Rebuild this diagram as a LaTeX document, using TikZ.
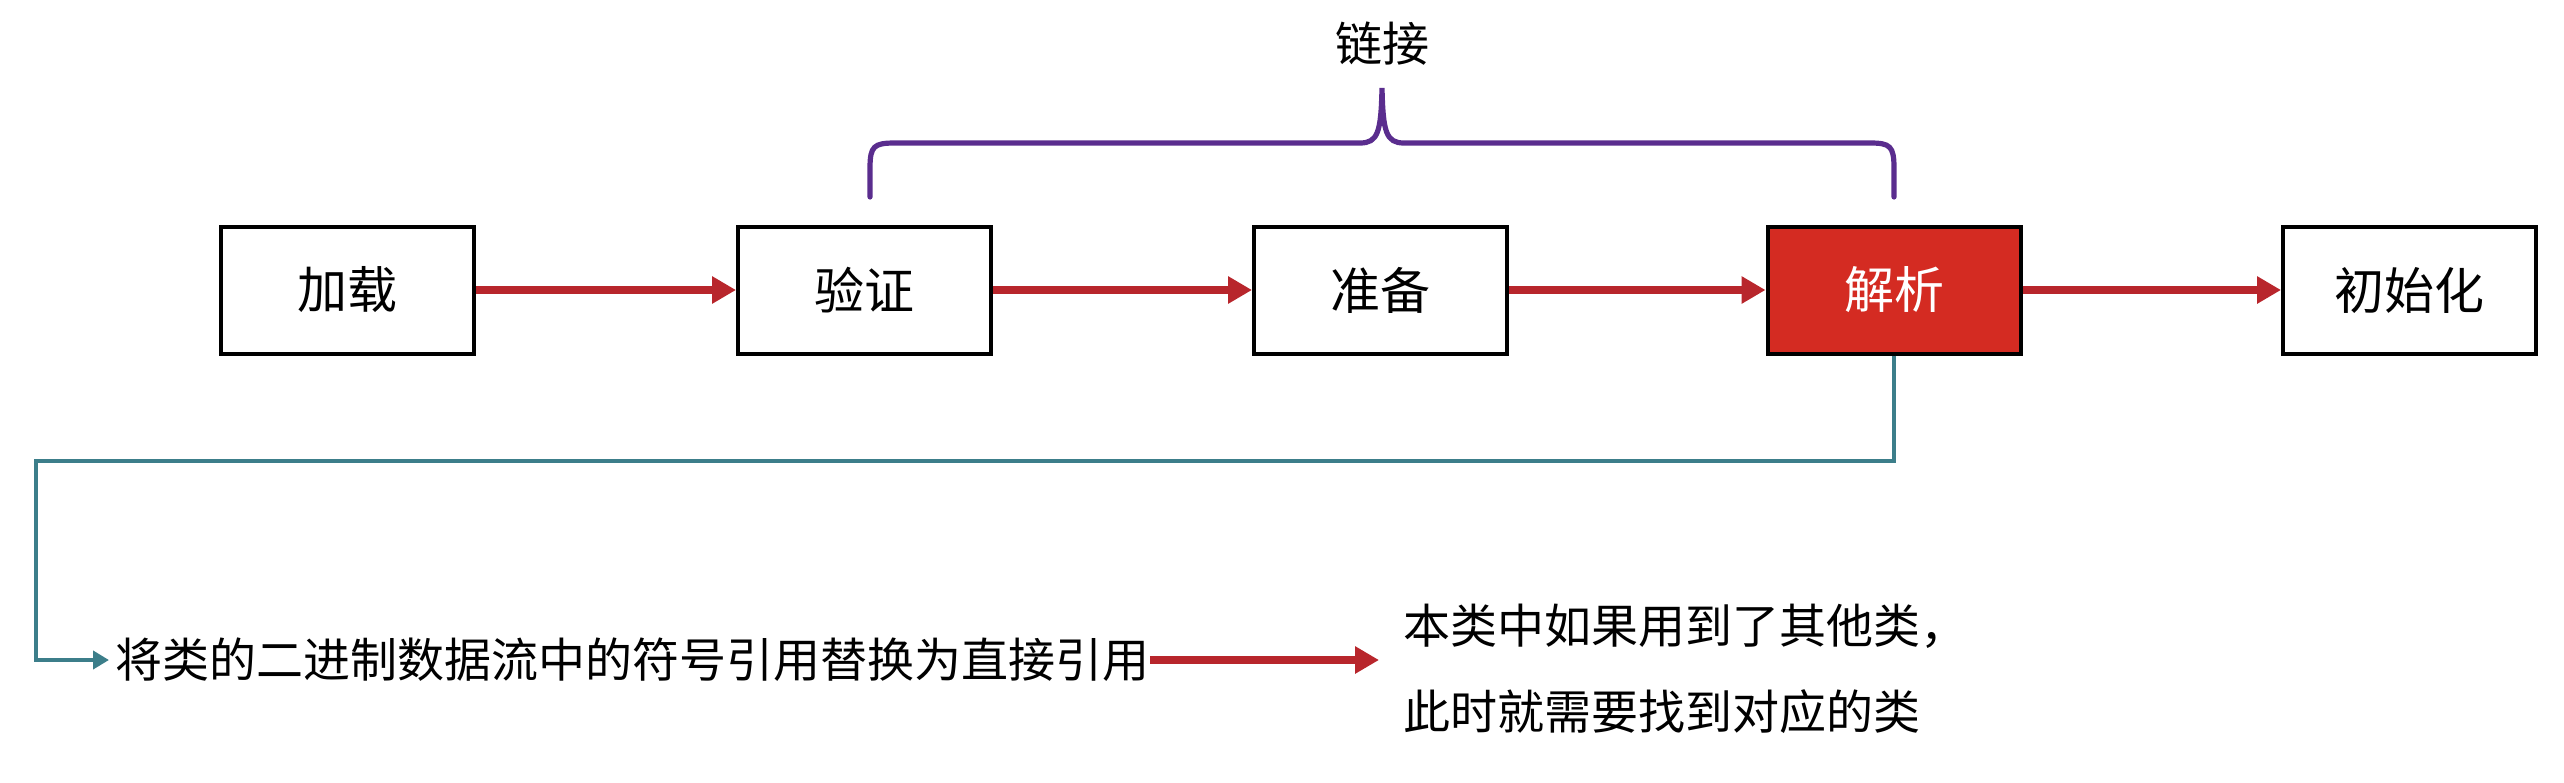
\documentclass[tikz,border=0pt]{standalone}
\usepackage{fontspec}
\setmainfont{Noto Sans CJK SC}
\usetikzlibrary{arrows.meta,calc}
\definecolor{boxred}{HTML}{D42B22}
\definecolor{arrred}{HTML}{B8262C}
\definecolor{brpurple}{HTML}{5A2D8E}
\definecolor{tealc}{HTML}{3C7E8A}
\tikzset{
  stagebox/.style={draw=black, line width=2pt, minimum width=126.5pt, minimum height=63.5pt,
    inner sep=0pt, font=\fontsize{25pt}{30pt}\selectfont},
  hotbox/.style={stagebox, fill=boxred, text=white},
  flowarrow/.style={draw=arrred, line width=3.8pt, -{Triangle[length=12pt,width=13pt]}},
  tealarrow/.style={draw=tealc, line width=2.3pt, -{Triangle[length=8pt,width=9pt]}},
  bracepath/.style={draw=brpurple, line width=2.6pt, line cap=round},
  plaintext/.style={inner sep=0pt, font=\fontsize{23.5pt}{43pt}\selectfont, align=left}
}
\begin{document}
\begin{tikzpicture}[x=0.5pt,y=-0.5pt]
\useasboundingbox (0,0) rectangle (2564,782);
\node[stagebox] (jz) at (347.5,290) {加载};
\node[stagebox] (yz) at (864.5,290) {验证};
\node[stagebox] (zb) at (1380.5,290) {准备};
\node[hotbox]   (jx) at (1894,290) {解析};
\node[stagebox] (csh) at (2409.5,290) {初始化};
\draw[flowarrow] (jz) -- (yz);
\draw[flowarrow] (yz) -- (zb);
\draw[flowarrow] (zb) -- (jx);
\draw[flowarrow] (jx) -- (csh);
% brace
\node[plaintext] (lj) at (1382,44) {链接};
\draw[bracepath] (870,197) -- (870,168) .. controls (870,146) and (874,143) .. (895,143)
  -- (1360,143) .. controls (1378,143) and (1381,132) .. (1382,88)
  .. controls (1383,132) and (1386,143) .. (1404,143)
  -- (1870,143) .. controls (1890,143) and (1894,146) .. (1894,168) -- (1894,197);
% lower part
\node[plaintext, anchor=west] (t1) at (115,660) {将类的二进制数据流中的符号引用替换为直接引用};
\node[plaintext, anchor=west] (t2) at (1403,669) {本类中如果用到了其他类，\\此时就需要找到对应的类};
\coordinate (c1) at (36,461);
\draw[tealarrow] (jx.south) |- (c1) |- ([xshift=-3pt]t1.west);
\draw[flowarrow] (t1.east) -- ([xshift=-12pt]t1.east -| t2.west);
\end{tikzpicture}
\end{document}
